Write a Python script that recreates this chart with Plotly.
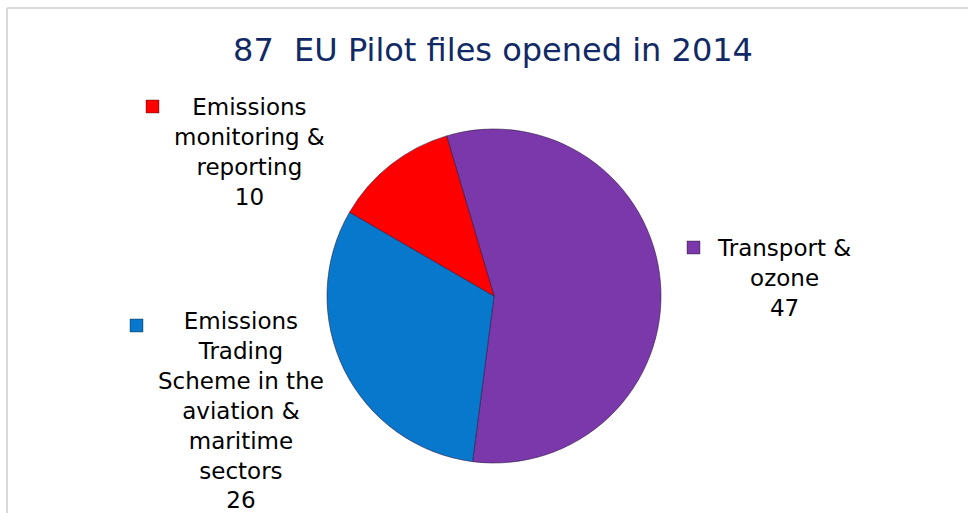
import plotly.graph_objects as go

W, H = 968, 513

# ---- data ----
categories = ["Transport & ozone",
              "Emissions Trading Scheme in the aviation & maritime sectors",
              "Emissions monitoring & reporting"]
label_lines = ["Transport &<br>ozone",
               "Emissions<br>Trading<br>Scheme in the<br>aviation &<br>maritime<br>sectors",
               "Emissions<br>monitoring &<br>reporting"]
values = [47, 26, 10]
colors = ["#7A38AA", "#0878CC", "#FF0000"]
title_text = "87  EU Pilot files opened in 2014"

FONT = "Verdana, DejaVu Sans, sans-serif"

def px_x(x):
    return x / W

def px_y(y):
    return 1 - y / H

cx, cy, r = 494, 296, 167

fig = go.Figure(go.Pie(
    labels=categories,
    values=values,
    marker=dict(colors=colors, line=dict(color="rgba(40,20,60,0.55)", width=1)),
    sort=False,
    direction="clockwise",
    rotation=-16.5,
    textinfo="none",
    showlegend=False,
    domain=dict(x=[px_x(cx - r), px_x(cx + r)], y=[px_y(cy + r), px_y(cy - r)]),
))

# label positions (text centre x, top y) and marker positions (left, top)
label_pos = [(784, 233), (241, 306), (249, 92)]
marker_pos = [(687, 241), (130, 319), (146, 100)]
msize = 13

annotations = []
shapes = []
for i in range(len(values)):
    tx, ty = label_pos[i]
    annotations.append(dict(
        x=px_x(tx), y=px_y(ty), xref="paper", yref="paper",
        xanchor="center", yanchor="top", align="center",
        text=f"{label_lines[i]}<br>{values[i]}",
        showarrow=False,
        font=dict(family=FONT, size=23, color="#000000"),
    ))
    mx, my = marker_pos[i]
    shapes.append(dict(
        type="rect", xref="paper", yref="paper",
        x0=px_x(mx), x1=px_x(mx + msize), y0=px_y(my + msize), y1=px_y(my),
        fillcolor=colors[i], line=dict(color="rgba(0,0,0,0.35)", width=1),
    ))

# frame (top and left edges visible)
shapes.append(dict(type="line", xref="paper", yref="paper",
                   x0=px_x(7), x1=1.01, y0=px_y(8), y1=px_y(8),
                   line=dict(color="#D9D9D9", width=2)))
shapes.append(dict(type="line", xref="paper", yref="paper",
                   x0=px_x(7), x1=px_x(7), y0=px_y(8), y1=-0.01,
                   line=dict(color="#D9D9D9", width=2)))

fig.update_layout(
    width=W, height=H,
    margin=dict(l=0, r=0, t=0, b=0),
    paper_bgcolor="white",
    plot_bgcolor="white",
    title=dict(text=title_text, x=493 / W, xanchor="center", xref="paper",
               y=px_y(50), yanchor="middle", yref="container",
               font=dict(family=FONT, size=32, color="#112A66")),
    annotations=annotations,
    shapes=shapes,
)

fig.write_html("out.html",
               config={"displayModeBar": False},
               post_script="document.body.style.margin='0';document.body.style.overflow='hidden';")
